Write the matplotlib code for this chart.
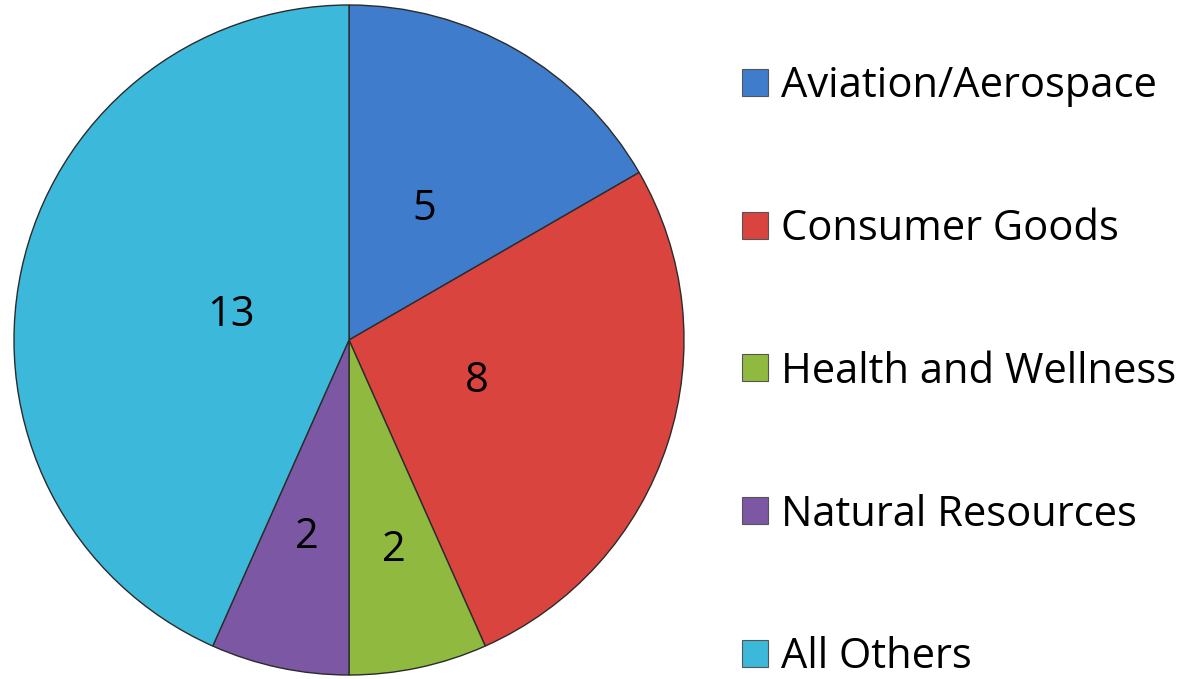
import numpy as np
import matplotlib.pyplot as plt
from matplotlib.patches import Patch

# category counts, drawn clockwise from 12 o'clock
categories = ['Aviation/Aerospace', 'Consumer Goods', 'Health and Wellness',
              'Natural Resources', 'All Others']
counts = [5, 8, 2, 2, 13]
colors = ['#3f7ccc', '#d9443f', '#8fba3f', '#7c57a3', '#3cb9da']
# how far out from the centre each count label sits (fraction of radius)
label_r = [0.45, 0.40, 0.64, 0.6, 0.36]

plt.rcParams['font.family'] = ['Open Sans', 'DejaVu Sans']

fig = plt.figure(figsize=(11.87, 6.79), dpi=100)
ax = fig.add_axes([14 / 1187, 4 / 679, 670 / 1187, 670 / 679])

wedges, _ = ax.pie(counts, colors=colors, startangle=90, counterclock=False,
                   radius=1, wedgeprops=dict(edgecolor='#2b2b2b', linewidth=1.0))

for w, n, r in zip(wedges, counts, label_r):
    mid = np.deg2rad((w.theta1 + w.theta2) / 2)
    ax.text(r * np.cos(mid), r * np.sin(mid), str(n), ha='center', va='center',
            fontsize=30, color='black')

ax.set_xlim(-1.0, 1.0)
ax.set_ylim(-1.0, 1.0)
ax.set_aspect('equal')
ax.axis('off')

handles = [Patch(facecolor=c, edgecolor='#555555', linewidth=0.8) for c in colors]
fig.legend(handles, categories, loc='upper left', bbox_to_anchor=(742 / 1187, 1 - 65 / 679),
           frameon=False, fontsize=30, handlelength=0.62, handleheight=0.62,
           handletextpad=0.31, labelspacing=2.42, borderpad=0, borderaxespad=0)

fig.savefig('out.png', dpi=100)
